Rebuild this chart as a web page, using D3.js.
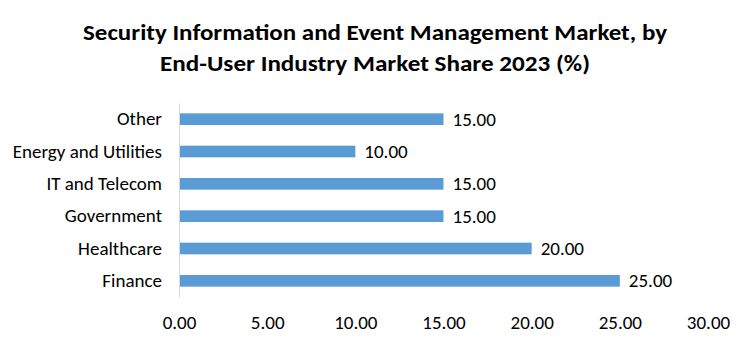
<!DOCTYPE html>
<html>
<head>
<meta charset="utf-8">
<script src="https://cdn.jsdelivr.net/npm/d3@7"></script>
<style>
  html, body { margin: 0; padding: 0; background: #fff; }
  svg { display: block; }
</style>
</head>
<body>
<svg id="chart" width="750" height="346"></svg>
<script>
// End-user industry shares, drawn top to bottom
const categories = ["Other", "Energy and Utilities", "IT and Telecom", "Government", "Healthcare", "Finance"];
const shares = [15, 10, 15, 15, 20, 25];
const xTicks = [0, 5, 10, 15, 20, 25, 30];
const titleLines = [
  "Security Information and Event Management Market, by",
  "End-User Industry Market Share 2023 (%)"
];

const svg = d3.select("#chart");
const font = "Calibri, Carlito, 'Liberation Sans Narrow', 'Open Sans', sans-serif";

const x = d3.scaleLinear().domain([0, 30]).range([179, 708]);
const y = d3.scaleBand().domain(categories).range([103, 297]).paddingInner(0.64).paddingOuter(0.32);

// Title
const titleWidths = [584, 430];
svg.selectAll("text.title")
  .data(titleLines)
  .join("text")
  .attr("class", "title")
  .attr("x", 375)
  .attr("y", (d, i) => 40 + i * 31)
  .attr("text-anchor", "middle")
  .attr("font-family", font)
  .attr("font-weight", "bold")
  .attr("font-size", 22)
  .attr("fill", "#000")
  .attr("textLength", (d, i) => titleWidths[i])
  .attr("lengthAdjust", "spacingAndGlyphs")
  .text(d => d);

// Bars
const rows = categories.map((c, i) => ({ cat: c, val: shares[i] }));
svg.append("g")
  .selectAll("rect")
  .data(rows)
  .join("rect")
  .attr("x", x(0))
  .attr("y", d => y(d.cat))
  .attr("width", d => x(d.val) - x(0))
  .attr("height", y.bandwidth())
  .attr("fill", "#5B9BD5");

// Value labels
svg.append("g")
  .selectAll("text")
  .data(rows)
  .join("text")
  .attr("x", d => x(d.val) + 9)
  .attr("y", d => y(d.cat) + y.bandwidth() / 2)
  .attr("dy", "0.35em")
  .attr("font-family", font)
  .attr("font-size", 19)
  .attr("fill", "#000")
  .text(d => d3.format(".2f")(d.val));

// Category axis
const yAxis = svg.append("g")
  .attr("transform", `translate(${x(0)},0)`)
  .call(d3.axisLeft(y).tickSize(0).tickPadding(17));
yAxis.select(".domain").attr("stroke", "#d9d9d9");
yAxis.selectAll("text")
  .attr("font-family", font)
  .attr("font-size", 19)
  .attr("fill", "#000");

// Value axis (labels only)
const xAxis = svg.append("g")
  .attr("transform", "translate(0,313)")
  .call(d3.axisBottom(x).tickValues(xTicks).tickFormat(d3.format(".2f")).tickSize(0).tickPadding(2));
xAxis.select(".domain").remove();
xAxis.selectAll("text")
  .attr("font-family", font)
  .attr("font-size", 19)
  .attr("fill", "#000");
</script>
</body>
</html>
